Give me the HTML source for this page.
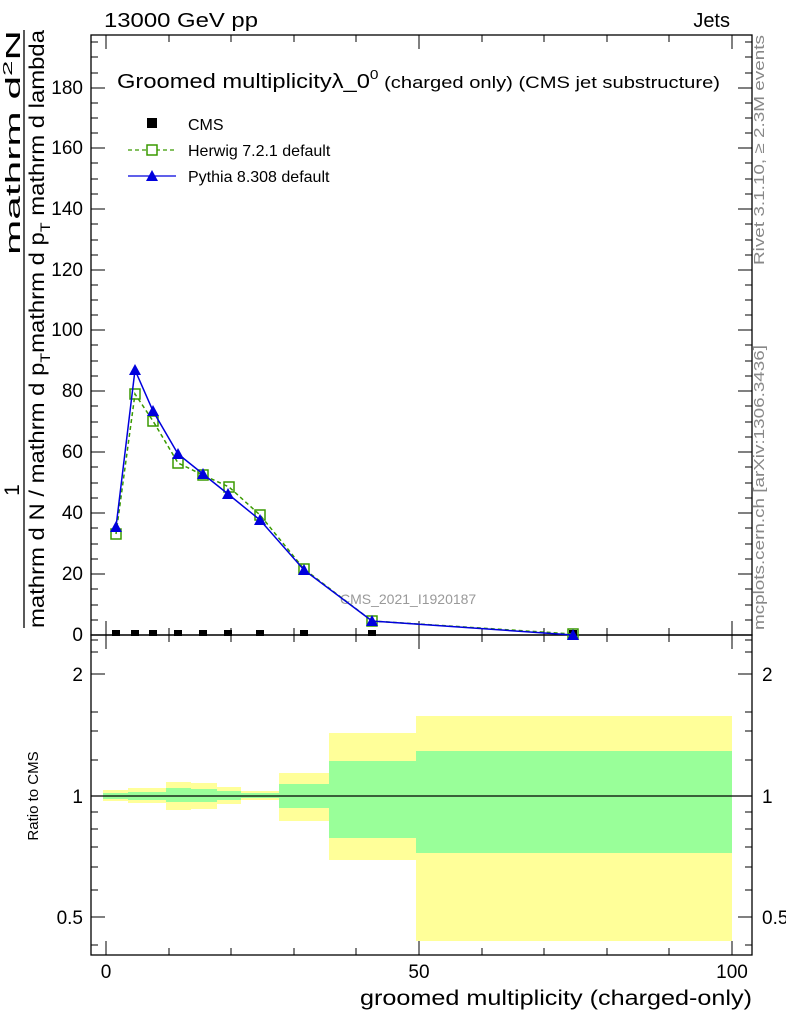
<!DOCTYPE html>
<html><head><meta charset="utf-8"><style>body{margin:0;background:#fff}svg{display:block}text{font-family:"Liberation Sans",sans-serif}</style></head>
<body>
<svg width="786" height="1024" viewBox="0 0 786 1024" xmlns="http://www.w3.org/2000/svg">
<g stroke="none">
<rect x="103" y="790" width="25" height="11" fill="#ffff99"/><rect x="103" y="793" width="25" height="6" fill="#99ff99"/>
<rect x="128" y="788" width="38" height="15" fill="#ffff99"/><rect x="128" y="792" width="38" height="8" fill="#99ff99"/>
<rect x="166" y="782" width="25" height="28" fill="#ffff99"/><rect x="166" y="788" width="25" height="14" fill="#99ff99"/>
<rect x="191" y="783" width="26" height="26" fill="#ffff99"/><rect x="191" y="789" width="26" height="13" fill="#99ff99"/>
<rect x="217" y="787" width="24" height="17" fill="#ffff99"/><rect x="217" y="791" width="24" height="9" fill="#99ff99"/>
<rect x="241" y="791" width="38" height="9" fill="#ffff99"/><rect x="241" y="793" width="38" height="5" fill="#99ff99"/>
<rect x="279" y="773" width="50" height="48" fill="#ffff99"/><rect x="279" y="784" width="50" height="24" fill="#99ff99"/>
<rect x="329" y="733" width="87" height="127" fill="#ffff99"/><rect x="329" y="761" width="87" height="77" fill="#99ff99"/>
<rect x="416" y="716" width="316" height="225" fill="#ffff99"/><rect x="416" y="751" width="316" height="102" fill="#99ff99"/>
</g>
<line x1="91" y1="796" x2="752" y2="796" stroke="#000" stroke-width="1.3"/>
<rect x="91" y="35" width="661" height="600" fill="none" stroke="#000" stroke-width="1.3"/>
<rect x="91" y="635" width="661" height="320" fill="none" stroke="#000" stroke-width="1.3"/>
<g stroke="#000" stroke-width="1">
<path d="M91 635h14M91 574h14M91 513h14M91 452h14M91 391h14M91 330h14M91 270h14M91 209h14M91 148h14M91 88h14 M752 635h-14M752 574h-14M752 513h-14M752 452h-14M752 391h-14M752 330h-14M752 270h-14M752 209h-14M752 148h-14M752 88h-14"/>
<path d="M91 620h7M91 605h7M91 589h7M91 559h7M91 544h7M91 528h7M91 498h7M91 483h7M91 467h7M91 437h7M91 422h7M91 406h7M91 376h7M91 361h7M91 345h7M91 315h7M91 300h7M91 285h7M91 255h7M91 240h7M91 224h7M91 194h7M91 179h7M91 163h7M91 133h7M91 118h7M91 103h7M91 73h7M91 57h7M91 42h7"/>
<path d="M752 620h-7M752 605h-7M752 589h-7M752 559h-7M752 544h-7M752 528h-7M752 498h-7M752 483h-7M752 467h-7M752 437h-7M752 422h-7M752 406h-7M752 376h-7M752 361h-7M752 345h-7M752 315h-7M752 300h-7M752 285h-7M752 255h-7M752 240h-7M752 224h-7M752 194h-7M752 179h-7M752 163h-7M752 133h-7M752 118h-7M752 103h-7M752 73h-7M752 57h-7M752 42h-7"/>
<path d="M106 635v-14M419 635v-14M732 635v-14M106 35v14M419 35v14M732 35v14 M106 955v-14M419 955v-14M732 955v-14M106 635v14M419 635v14M732 635v14"/>
<path d="M169 635v-7M231 635v-7M294 635v-7M356 635v-7M482 635v-7M544 635v-7M607 635v-7M669 635v-7 M169 955v-7M231 955v-7M294 955v-7M356 955v-7M482 955v-7M544 955v-7M607 955v-7M669 955v-7 M169 35v7M231 35v7M294 35v7M356 35v7M482 35v7M544 35v7M607 35v7M669 35v7 M169 635v7M231 635v7M294 635v7M356 635v7M482 635v7M544 635v7M607 635v7M669 635v7"/>
<path d="M91 674h14M91 796h14M91 917h14M752 674h-14M752 796h-14M752 917h-14"/>
<path d="M91 945h7M91 890h7M91 867h7M91 847h7M91 829h7M91 812h7M91 760h7M91 731h7M91 712h7M91 652h7M91 640h7 M752 945h-7M752 890h-7M752 867h-7M752 847h-7M752 829h-7M752 812h-7M752 760h-7M752 731h-7M752 712h-7M752 652h-7M752 640h-7"/>
</g>
<g font-size="19" text-anchor="end">
<text x="83" y="641">0</text><text x="83" y="580">20</text><text x="83" y="519">40</text><text x="83" y="458">60</text><text x="83" y="397">80</text><text x="83" y="336">100</text><text x="83" y="276">120</text><text x="83" y="215">140</text><text x="83" y="154">160</text><text x="83" y="94">180</text>
<text x="83" y="681">2</text><text x="83" y="803">1</text><text x="83" y="924">0.5</text>
</g>
<g font-size="19"><text x="762" y="681">2</text><text x="762" y="803">1</text><text x="762" y="924">0.5</text></g>
<g font-size="19" text-anchor="middle"><text x="106" y="978">0</text><text x="419" y="978">50</text><text x="732" y="978">100</text></g>
<text x="360" y="1005" font-size="21" textLength="392" lengthAdjust="spacingAndGlyphs">groomed multiplicity (charged-only)</text>
<text x="104" y="27" font-size="20" textLength="154" lengthAdjust="spacingAndGlyphs">13000 GeV pp</text>
<text x="730" y="27" font-size="20" text-anchor="end">Jets</text>
<text x="117" y="88" font-size="20" textLength="603" lengthAdjust="spacingAndGlyphs">Groomed multiplicityλ_0<tspan font-size="13" dy="-9">0</tspan><tspan font-size="17" dy="9"> (charged only) (CMS jet substructure)</tspan></text>
<text x="340" y="604" font-size="14" fill="#999">CMS_2021_I1920187</text>
<text transform="translate(764,265) rotate(-90)" font-size="15" fill="#888" textLength="230" lengthAdjust="spacingAndGlyphs">Rivet 3.1.10, ≥ 2.3M events</text>
<text transform="translate(764,630) rotate(-90)" font-size="15" fill="#888" textLength="285" lengthAdjust="spacingAndGlyphs">mcplots.cern.ch [arXiv:1306.3436]</text>
<text transform="translate(38,796) rotate(-90)" font-size="15" text-anchor="middle">Ratio to CMS</text>
<text transform="translate(19,490) rotate(-90)" font-size="21" text-anchor="middle">1</text>
<line x1="24" y1="628" x2="24" y2="30" stroke="#000" stroke-width="1.3"/>
<text transform="translate(44,628) rotate(-90)" font-size="21" textLength="598" lengthAdjust="spacingAndGlyphs">mathrm d N / mathrm d p<tspan font-size="14" dy="6">T</tspan><tspan dy="-6">mathrm d p</tspan><tspan font-size="14" dy="6">T</tspan><tspan dy="-6"> mathrm d lambda</tspan></text>
<text transform="translate(20,255) rotate(-90)" font-size="20" textLength="225" lengthAdjust="spacingAndGlyphs">mathrm d<tspan font-size="13" dy="-8">2</tspan><tspan dy="8">N</tspan></text>
<rect x="147" y="118" width="10" height="10" fill="#000"/>
<text x="188" y="130" font-size="16">CMS</text>
<line x1="128" y1="150" x2="176" y2="150" stroke="#3a9a00" stroke-dasharray="4,3" stroke-width="1.3"/>
<rect x="147" y="145" width="10" height="10" fill="#fff" stroke="#3a9a00" stroke-width="1.5"/>
<text x="188" y="156" font-size="16">Herwig 7.2.1 default</text>
<line x1="128" y1="176" x2="176" y2="176" stroke="#0000dd" stroke-width="1.3"/>
<polygon points="152,170 158,181 146,181" fill="#0000dd"/>
<text x="188" y="182" font-size="16">Pythia 8.308 default</text>
<g fill="#000">
<rect x="112" y="630" width="8" height="6"/><rect x="131" y="630" width="8" height="6"/><rect x="149" y="630" width="8" height="6"/><rect x="174" y="630" width="8" height="6"/><rect x="199" y="630" width="8" height="6"/><rect x="224" y="630" width="8" height="6"/><rect x="256" y="630" width="8" height="6"/><rect x="300" y="630" width="8" height="6"/><rect x="368" y="630" width="8" height="6"/><rect x="569" y="630" width="8" height="6"/>
</g>
<polyline points="116,534 135,394 153,421 178,463 203,475 229,487 260,515 304,569 372,621 573,634" fill="none" stroke="#3a9a00" stroke-width="1.5" stroke-dasharray="4,3"/>
<g fill="none" stroke="#3a9a00" stroke-width="1.5">
<rect x="111" y="529" width="10" height="10"/><rect x="130" y="389" width="10" height="10"/><rect x="148" y="416" width="10" height="10"/><rect x="173" y="458" width="10" height="10"/><rect x="198" y="470" width="10" height="10"/><rect x="224" y="482" width="10" height="10"/><rect x="255" y="510" width="10" height="10"/><rect x="299" y="564" width="10" height="10"/><rect x="367" y="616" width="10" height="10"/><rect x="568" y="629" width="10" height="10"/>
</g>
<polyline points="116,527 135,370 153,411 178,454 203,474 228,494 260,520 304,570 372,621 573,635" fill="none" stroke="#0000dd" stroke-width="1.5"/>
<g fill="#0000dd">
<polygon points="116,521 122,532 110,532"/><polygon points="135,364 141,375 129,375"/><polygon points="153,405 159,416 147,416"/><polygon points="178,448 184,459 172,459"/><polygon points="203,468 209,479 197,479"/><polygon points="228,488 234,499 222,499"/><polygon points="260,514 266,525 254,525"/><polygon points="304,564 310,575 298,575"/><polygon points="372,615 378,626 366,626"/><polygon points="573,629 579,640 567,640"/>
</g>
</svg>
</body></html>
